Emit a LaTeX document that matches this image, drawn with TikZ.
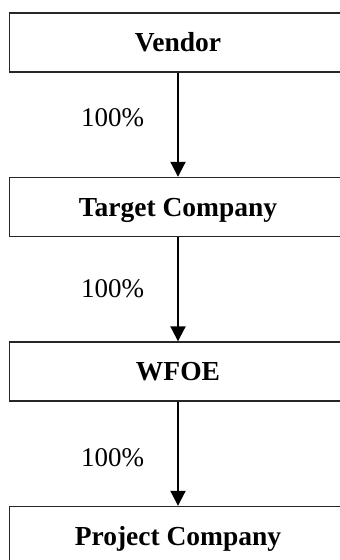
\documentclass[tikz,border=0pt]{standalone}
\usepackage{fontspec}
\setmainfont{Liberation Serif}
\usetikzlibrary{arrows.meta}
\usetikzlibrary{positioning}
\tikzset{entity/.style={rectangle, draw=black!85, line width=1.4pt, minimum width=337pt, minimum height=59pt, inner sep=0pt, text height=18pt, text depth=0pt, font=\fontsize{27.5}{31}\selectfont\bfseries}}
\tikzset{share/.style={inner sep=0pt, font=\fontsize{27}{31}\selectfont}}

\begin{document}
\begin{tikzpicture}[x=1pt,y=-1pt]
    \clip (0,0) rectangle (340,560);
    \foreach \y/\lab/\tx in {
      42.5/vendor/Vendor,
      207/target/Target Company,
      371.5/wfoe/WFOE,
      536/project/Project Company%
    } {
      \node[entity] (\lab) at (178, \y) {\tx};
    }
    \begin{scope}[every edge/.append style={line width=2pt, -{Triangle[length=15pt,width=15pt]}}]
      \foreach \a/\b/\dy in {vendor/target/7, target/wfoe/1, wfoe/project/-4} {
        \draw (\a) edge node[share, left=33pt, yshift=\dy pt] {100\%} (\b);
      }
    \end{scope}
  \end{tikzpicture}
\end{document}
